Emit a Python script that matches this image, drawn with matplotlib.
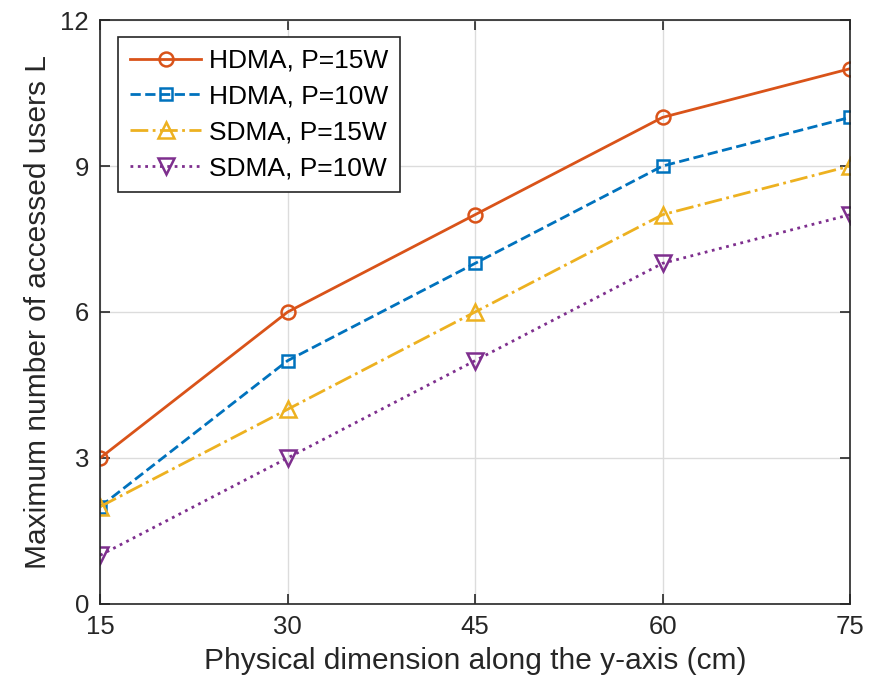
import matplotlib
matplotlib.use("Agg")
import matplotlib.pyplot as plt

x = [15, 30, 45, 60, 75]
hdma_15 = [3, 6, 8, 10, 11]
hdma_10 = [2, 5, 7, 9, 10]
sdma_15 = [2, 4, 6, 8, 9]
sdma_10 = [1, 3, 5, 7, 8]

plt.rcParams['font.family'] = ['Liberation Sans', 'DejaVu Sans']

fig = plt.figure(figsize=(8.71, 6.91), dpi=100)
ax = fig.add_axes([0.115, 0.126, 0.861, 0.845])

ax.plot(x, hdma_15, '-o', color='#D95319', lw=2, ms=10, mfc='none', mew=1.8, label='HDMA, P=15W')
ax.plot(x, hdma_10, '--s', color='#0072BD', lw=2, ms=9, mfc='none', mew=1.8, label='HDMA, P=10W')
ax.plot(x, sdma_15, '-.^', color='#EDB120', lw=2, ms=11, mfc='none', mew=1.8, label='SDMA, P=15W')
ax.plot(x, sdma_10, ':v', color='#7E2F8E', lw=2, ms=11, mfc='none', mew=1.8, label='SDMA, P=10W')

ax.set_xlim(15, 75)
ax.set_ylim(0, 12)
ax.set_xticks(x)
ax.set_yticks([0, 3, 6, 9, 12])
ax.grid(True, color='#dcdcdc', lw=1)
ax.tick_params(direction='in', labelsize=18.5, length=7, top=True, right=True, width=1.2,
               colors='#262626', pad=8)
for s in ax.spines.values():
    s.set_color('#262626')
    s.set_linewidth(1.2)

ax.set_xlabel('Physical dimension along the y-axis (cm)', fontsize=21.5, color='#262626', labelpad=6)
ax.set_ylabel('Maximum number of accessed users L', fontsize=21.5, color='#262626', labelpad=6)

leg = ax.legend(loc='upper left', bbox_to_anchor=(0.024, 0.971), fontsize=19, handlelength=2.7,
                fancybox=False, edgecolor='#262626', framealpha=1, borderpad=0.45,
                labelspacing=0.45, handletextpad=0.3, borderaxespad=0)
leg.get_frame().set_linewidth(1.2)

fig.savefig('out.png', dpi=100)
